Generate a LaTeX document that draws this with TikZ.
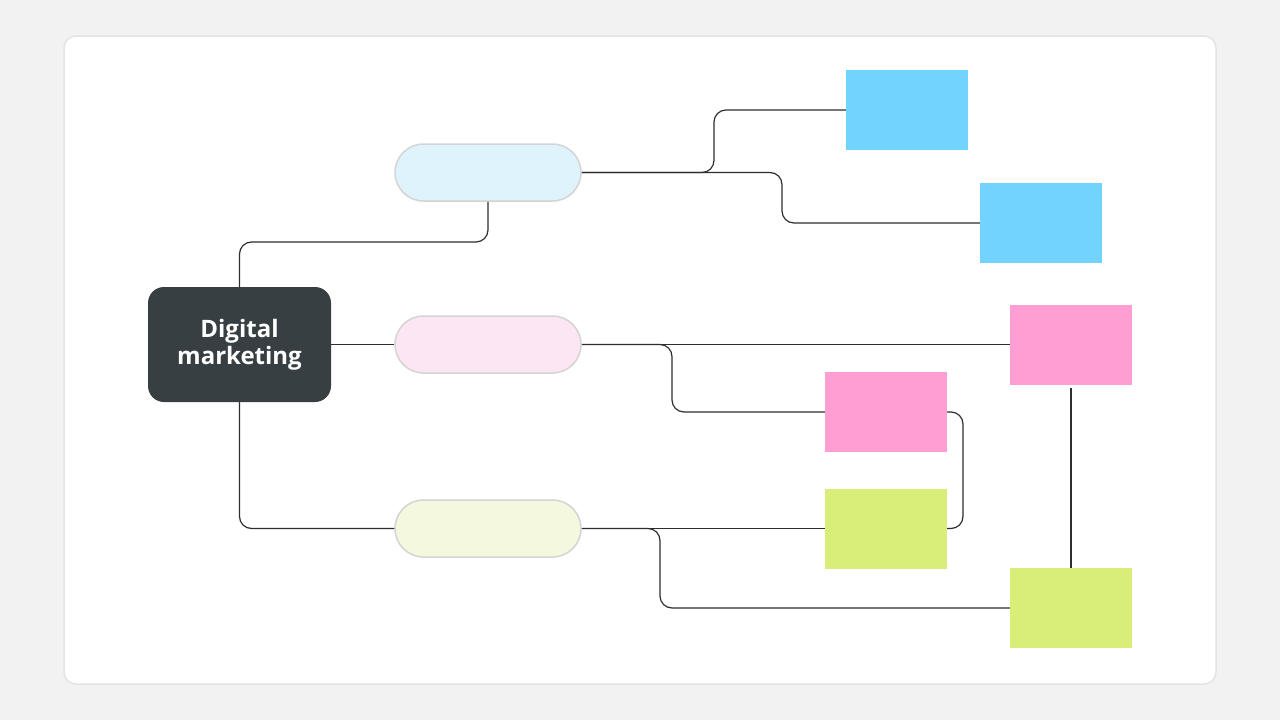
\documentclass[tikz,border=0pt]{standalone}
\usepackage{fontspec}
\setmainfont{Open Sans}
\usetikzlibrary{calc}
\definecolor{bgc}{HTML}{F2F2F2}
\definecolor{cardline}{HTML}{E3E3E3}
\definecolor{darkc}{HTML}{373F43}
\definecolor{pillline}{HTML}{D4D4D4}
\definecolor{pblue}{HTML}{DFF3FD}
\definecolor{ppink}{HTML}{FDE6F3}
\definecolor{pgreen}{HTML}{F4F8DF}
\definecolor{nblue}{HTML}{72D3FE}
\definecolor{npink}{HTML}{FE9ED3}
\definecolor{ngreen}{HTML}{D8EE79}
\definecolor{linec}{HTML}{2E2E2E}
\tikzset{
  pill/.style={draw=pillline, line width=1.5pt, rounded corners=28.5pt, minimum width=186pt, minimum height=57pt, inner sep=0pt},
  sticky/.style={minimum width=122pt, minimum height=80pt, inner sep=0pt},
  conn/.style={draw=linec, line width=1.2pt, rounded corners=12pt},
}
\begin{document}
\begin{tikzpicture}[x=1pt,y=-1pt]
\useasboundingbox (0,0) rectangle (1280,720);
\fill[bgc] (0,0) rectangle (1280,720);
\draw[cardline, fill=white, line width=1.5pt, rounded corners=12pt] (64,36) rectangle (1216,684);

% named bend coordinates
\coordinate (k1) at (0,242);
\coordinate (k2) at (714,0);
\coordinate (k3) at (782,0);
\coordinate (k4) at (672,0);
\coordinate (k5) at (963,0);
\coordinate (k6) at (660,0);

% sticky notes
\node[sticky, fill=nblue] (n1) at (907,110) {};
\node[sticky, fill=nblue] (n2) at (1041,223) {};
\node[sticky, fill=npink] (n3) at (1071,344.5) {};
\node[sticky, fill=npink] (n4) at (886,412) {};
\node[sticky, fill=ngreen] (n5) at (886,528.5) {};
\node[sticky, fill=ngreen] (n6) at (1071,608) {};

% pills
\node[pill, fill=pblue] (p1) at (488,172.5) {};
\node[pill, fill=ppink] (p2) at (488,344.5) {};
\node[pill, fill=pgreen] (p3) at (488,528.5) {};

% central node
\node[fill=darkc, rounded corners=16pt, minimum width=183pt, minimum height=115pt, inner sep=0pt,
      text=white, font=\bfseries\fontsize{24}{27}\selectfont, align=center] (c) at (239.5,344.5) {Digital\\marketing};

% connectors
\path[conn] (c.north) |- (p1.south |- k1) -- (p1.south);
\path[conn] (c.east) -- (p2.west);
\path[conn] (c.south) |- (p3.west);

\path[conn] (p1.east) -| (k2 |- n1.west) -- (n1.west);
\path[conn] (p1.east) -| (k3 |- n2.west) -- (n2.west);

\path[conn] (p2.east) -- (n3.west);
\path[conn] (p2.east) -| (k4 |- n4.west) -- (n4.west);

\path[conn] (n4.east) -| (k5 |- n5.east) -- (n5.east);

\path[conn] (p3.east) -- (n5.west);
\path[conn] (p3.east) -| (k6 |- n6.west) -- (n6.west);

\path[conn] ($(n3.south)+(0,3)$) -- (n6.north);
\end{tikzpicture}
\end{document}
